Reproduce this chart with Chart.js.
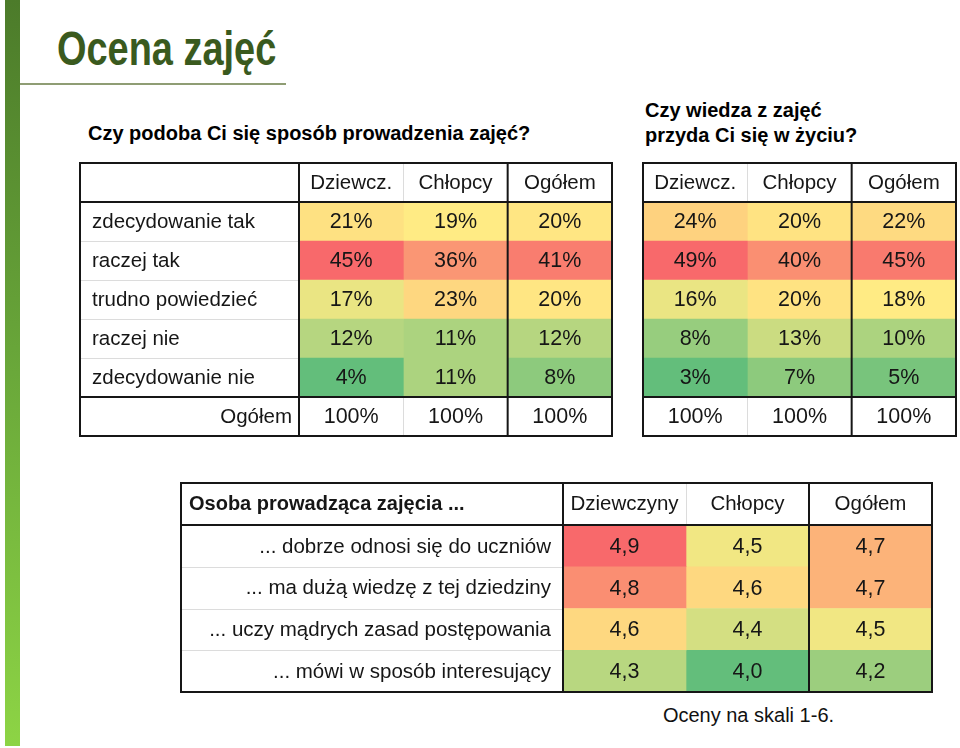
<!DOCTYPE html>
<html>
<head>
<meta charset="utf-8">
<script src="https://cdn.jsdelivr.net/npm/chart.js"></script>
<style>
  body { margin: 0; background: #fff; font-family: "Liberation Sans", Arial, sans-serif; }
  #page { position: relative; width: 960px; height: 748px; overflow: hidden; }
  #bar { position: absolute; left: 5px; top: 0; width: 15px; height: 746px;
         background: linear-gradient(#4c7b2a, #6aa83a 50%, #8dd445); }
  #title { position: absolute; left: 57px; top: 21px; font: bold 48px "Liberation Sans", Arial, sans-serif;
           color: #3a5a1e; transform: scaleX(0.79); transform-origin: left top; white-space: nowrap; }
  #rule { position: absolute; left: 20px; top: 83px; width: 266px; height: 1.5px; background: #8f9d74; }
  .sub { position: absolute; font: bold 20px "Liberation Sans", Arial, sans-serif; color: #000; line-height: 25px; }
  #note { position: absolute; left: 600px; width: 297px; top: 704px; text-align: center; font: 20px "Liberation Sans", Arial, sans-serif; color: #111; }
  canvas { position: absolute; }
</style>
</head>
<body>
<div id="page">
  <div id="bar"></div>
  <div id="title">Ocena zajęć</div>
  <div id="rule"></div>
  <div class="sub" style="left:88px; top:121px;">Czy podoba Ci się sposób prowadzenia zajęć?</div>
  <div class="sub" style="left:645px; top:98px;">Czy wiedza z zajęć<br>przyda Ci się w życiu?</div>
  <canvas id="t1" width="534" height="275" style="left:79px; top:162px;"></canvas>
  <canvas id="t2" width="315" height="275" style="left:642px; top:162px;"></canvas>
  <canvas id="t3" width="753" height="211" style="left:180px; top:482px;"></canvas>
  <div id="note">Oceny na skali 1-6.</div>
</div>

<script>
  // --- data ---
  const answers = ['zdecydowanie tak', 'raczej tak', 'trudno powiedzieć', 'raczej nie', 'zdecydowanie nie'];
  const totalLabel = 'Ogółem';
  const groupsShort = ['Dziewcz.', 'Chłopcy', 'Ogółem'];

  // Czy podoba Ci się sposób prowadzenia zajęć? (%)
  const girls1 = [21, 45, 17, 12, 4];
  const boys1  = [19, 36, 23, 11, 11];
  const all1   = [20, 41, 20, 12, 8];
  const totals1 = [100, 100, 100];

  // Czy wiedza z zajęć przyda Ci się w życiu? (%)
  const girls2 = [24, 49, 16, 8, 3];
  const boys2  = [20, 40, 20, 13, 7];
  const all2   = [22, 45, 18, 10, 5];
  const totals2 = [100, 100, 100];

  // Osoba prowadząca zajęcia ... (oceny 1-6)
  const teacherHeader = 'Osoba prowadząca zajęcia ...';
  const statements = ['... dobrze odnosi się do uczniów', '... ma dużą wiedzę z tej dziedziny',
                      '... uczy mądrych zasad postępowania', '... mówi w sposób interesujący'];
  const groupsLong = ['Dziewczyny', 'Chłopcy', 'Ogółem'];
  const girls3 = [4.9, 4.8, 4.6, 4.3];
  const boys3  = [4.5, 4.6, 4.4, 4.0];
  const all3   = [4.7, 4.7, 4.5, 4.2];

  const FONT = '"Liberation Sans", Arial, sans-serif';

  // Excel-like 3 colour scale: green (min) - yellow (median) - red (max)
  function colourScale(series) {
    const flat = series.flat().slice().sort((a, b) => a - b);
    const n = flat.length;
    const pos = (n - 1) * 0.5, lo = Math.floor(pos);
    const mid = flat[lo] + (flat[Math.min(lo + 1, n - 1)] - flat[lo]) * (pos - lo);
    const min = flat[0], max = flat[n - 1];
    const G = [99, 190, 123], Y = [255, 235, 132], R = [248, 105, 107];
    const mix = (a, b, t) => 'rgb(' + a.map((v, i) => Math.round(v + (b[i] - v) * t)).join(',') + ')';
    return v => v <= mid ? mix(G, Y, (v - min) / (mid - min)) : mix(Y, R, (v - mid) / (max - mid));
  }

  const tablePlugin = {
    id: 'table',
    afterDatasetsDraw(chart, args, o) {
      const { ctx, chartArea: a, scales: { x, y } } = chart;
      const W = chart.width, H = chart.height;
      const nData = o.nData;
      const line = (x1, y1, x2, y2) => { ctx.beginPath(); ctx.moveTo(x1, y1); ctx.lineTo(x2, y2); ctx.stroke(); };
      const bandEdge = i => (y.getPixelForValue(i - 1) + y.getPixelForValue(i)) / 2;
      ctx.save();

      // light separators
      ctx.strokeStyle = '#dcdcdc';
      ctx.lineWidth = 1;
      if (a.left > 2) {
        for (let i = 1; i < nData; i++) {
          const yy = Math.round(bandEdge(i)) + 0.5;
          line(0, yy, a.left, yy);
        }
      }
      const xg = Math.round(x.getPixelForValue(1)) + 0.5;
      line(xg, 0, xg, a.top);
      if (o.total) line(xg, bandEdge(nData), xg, H);

      // black borders
      ctx.strokeStyle = '#161616';
      ctx.lineWidth = 2;
      line(0, a.top, W, a.top);
      if (o.total) line(0, bandEdge(nData), W, bandEdge(nData));
      if (a.left > 2) line(a.left, 0, a.left, H);
      line(x.getPixelForValue(2), 0, x.getPixelForValue(2), H);
      ctx.strokeRect(1, 1, W - 2, H - 2);

      // texts
      ctx.fillStyle = '#161616';
      ctx.textBaseline = 'middle';
      ctx.textAlign = 'center';
      ctx.font = '20.5px ' + FONT;
      o.header.forEach((h, c) => ctx.fillText(h, x.getPixelForValue(c + 0.5), a.top / 2 + 1));
      ctx.font = '21.5px ' + FONT;
      chart.data.datasets.forEach((ds, c) => {
        chart.getDatasetMeta(c).data.forEach((bar, i) => {
          ctx.fillText(o.fmt(ds.values[i]), x.getPixelForValue(c + 0.5), bar.y + 1);
        });
      });
      ctx.font = '20.5px ' + FONT;
      if (o.rowLabels) {
        o.rowLabels.forEach((lab, i) => {
          const yy = y.getPixelForValue(i) + 1;
          if (i >= nData || o.labelAlign === 'right') {
            ctx.textAlign = 'right';
            ctx.fillText(lab, a.left - o.labelPadRight, yy);
          } else {
            ctx.textAlign = 'left';
            ctx.fillText(lab, o.labelPadLeft, yy);
          }
        });
      }
      if (o.corner) {
        ctx.font = 'bold 20px ' + FONT;
        ctx.textAlign = 'left';
        ctx.fillText(o.corner, 9, a.top / 2 + 1);
      }
      ctx.restore();
    }
  };

  function makeTable(id, series, totals, cats, opts) {
    const colour = colourScale(series);
    const datasets = series.map((vals, c) => ({
      data: cats.map(() => [c, c + 1]),
      values: totals ? vals.concat([totals[c]]) : vals,
      backgroundColor: vals.map(colour).concat(totals ? ['#ffffff'] : []),
      borderWidth: 0,
      barPercentage: 1,
      categoryPercentage: 1,
      grouped: false
    }));
    return new Chart(document.getElementById(id), {
      type: 'bar',
      data: { labels: cats, datasets },
      options: {
        indexAxis: 'y',
        responsive: false,
        animation: false,
        events: [],
        layout: { padding: { left: opts.left, top: opts.top, right: 1, bottom: 1 } },
        scales: {
          x: { type: 'linear', min: 0, max: 3, display: false },
          y: { type: 'category', display: false }
        },
        plugins: {
          legend: { display: false },
          tooltip: { enabled: false },
          table: Object.assign({ nData: series[0].length, total: !!totals }, opts.table)
        }
      },
      plugins: [tablePlugin]
    });
  }

  const pct = v => v + '%';
  const mark = v => v.toFixed(1).replace('.', ',');

  makeTable('t1', [girls1, boys1, all1], totals1, answers.concat(totalLabel), {
    left: 220, top: 40,
    table: { header: groupsShort, fmt: pct, rowLabels: answers.concat(totalLabel),
             labelAlign: 'left', labelPadLeft: 13, labelPadRight: 7 }
  });
  makeTable('t2', [girls2, boys2, all2], totals2, answers.concat(totalLabel), {
    left: 1, top: 40,
    table: { header: groupsShort, fmt: pct }
  });
  makeTable('t3', [girls3, boys3, all3], null, statements, {
    left: 383, top: 43,
    table: { header: groupsLong, fmt: mark, rowLabels: statements,
             labelAlign: 'right', labelPadRight: 12, corner: teacherHeader }
  });
</script>
</body>
</html>
